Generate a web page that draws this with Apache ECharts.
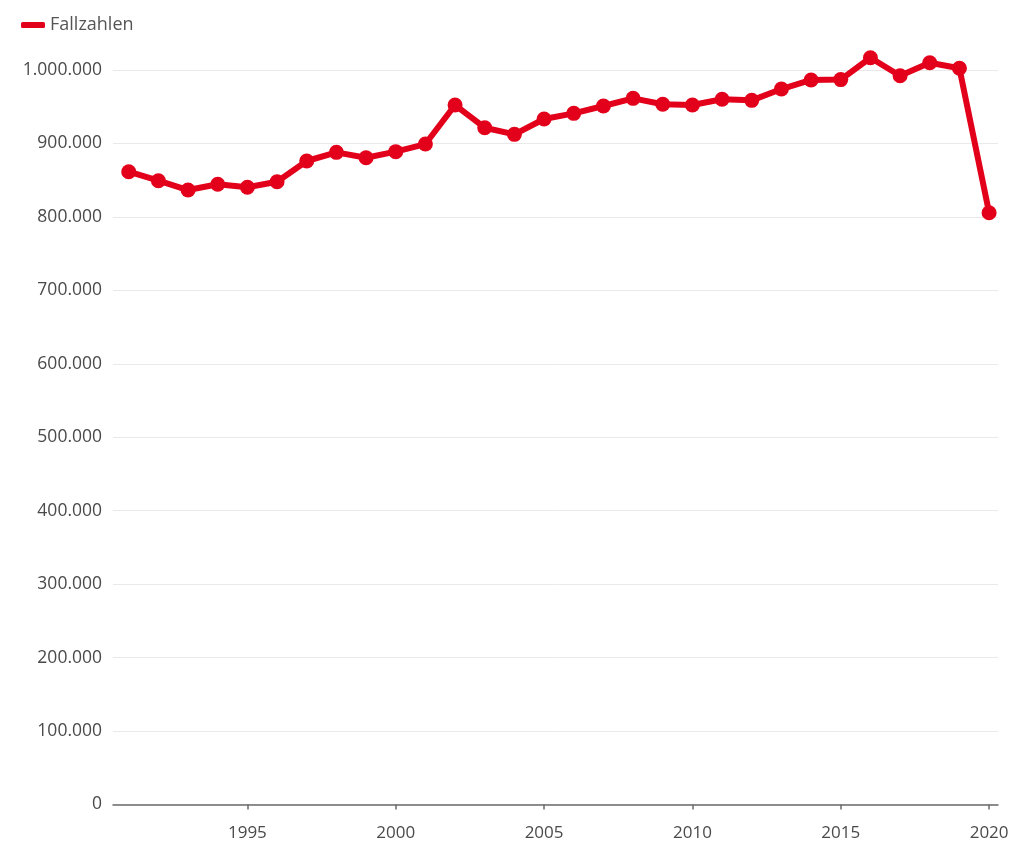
<!DOCTYPE html>
<html lang="de">
<head>
<meta charset="utf-8">
<title>Fallzahlen</title>
<script src="https://cdn.jsdelivr.net/npm/echarts@6/dist/echarts.min.js"></script>
<style>
  html, body { margin: 0; padding: 0; background: #ffffff; }
  #chart { width: 1032px; height: 843px; }
</style>
</head>
<body>
<div id="chart"></div>
<script>
// Jahre und jährliche Fallzahlen
const years = [
  1991, 1992, 1993, 1994, 1995, 1996, 1997, 1998, 1999, 2000,
  2001, 2002, 2003, 2004, 2005, 2006, 2007, 2008, 2009, 2010,
  2011, 2012, 2013, 2014, 2015, 2016, 2017, 2018, 2019, 2020
];
const fallzahlen = [
  861500, 849300, 836600, 844400, 840300, 847900, 876100, 887900, 880600, 888800,
  899200, 952300, 921400, 912400, 933300, 941000, 951000, 961400, 953300, 952300,
  960100, 958700, 974100, 986400, 986900, 1016700, 992200, 1009900, 1002300, 805700
];
// beschriftete Jahre auf der x-Achse
const yearTicks = [1995, 2000, 2005, 2010, 2015, 2020];
const seriesName = 'Fallzahlen';

const textColor = '#4a4a4a';
const red = '#e3001b';
const fontFamily = '"Open Sans", "Noto Sans", sans-serif';

function deNumber(v) {
  return String(Math.round(v)).replace(/\B(?=(\d{3})+(?!\d))/g, '.');
}

const chart = echarts.init(document.getElementById('chart'), null, { renderer: 'canvas' });

chart.setOption({
  backgroundColor: '#ffffff',
  animation: false,
  textStyle: { fontFamily: fontFamily },
  legend: {
    left: 16,
    top: 11,
    itemWidth: 24,
    itemHeight: 6,
    itemGap: 10,
    icon: 'roundRect',
    textStyle: { color: '#555555', fontSize: 18, fontFamily: fontFamily },
    data: [{ name: seriesName, itemStyle: { color: red } }]
  },
  grid: {
    left: 113,
    right: 34,
    top: 70,
    bottom: 38.5,
    containLabel: false
  },
  xAxis: {
    type: 'value',
    min: 1990.47,
    max: 2020.3,
    splitLine: { show: false },
    axisLine: { show: true, lineStyle: { color: '#6b6b6b', width: 1.5 } },
    axisTick: {
      show: true,
      length: 5,
      customValues: yearTicks,
      lineStyle: { color: '#6b6b6b', width: 1.5 }
    },
    axisLabel: {
      color: textColor,
      fontSize: 17,
      margin: 20,
      fontFamily: fontFamily,
      customValues: yearTicks,
      formatter: function (v) { return String(v); }
    }
  },
  yAxis: {
    type: 'value',
    min: 0,
    max: 1000000,
    interval: 100000,
    axisLine: { show: false },
    axisTick: { show: false },
    splitLine: { show: true, lineStyle: { color: '#e9e9e9', width: 1 } },
    axisLabel: {
      color: textColor,
      fontSize: 17.5,
      margin: 11,
      fontFamily: fontFamily,
      formatter: deNumber
    }
  },
  series: [{
    name: seriesName,
    type: 'line',
    clip: false,
    data: years.map(function (y, i) { return [y, fallzahlen[i]]; }),
    symbol: 'circle',
    symbolSize: 15,
    showAllSymbol: true,
    lineStyle: { color: red, width: 6 },
    itemStyle: { color: red, borderWidth: 0 }
  }]
});
</script>
</body>
</html>
